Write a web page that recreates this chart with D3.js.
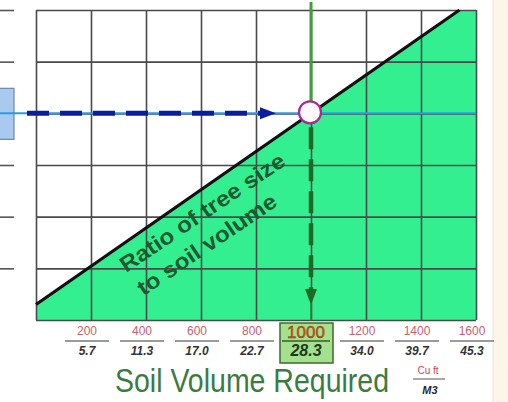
<!DOCTYPE html>
<html><head><meta charset="utf-8">
<script src="https://cdn.jsdelivr.net/npm/d3@7"></script>
<style>
html,body{margin:0;padding:0;background:#fff;}
svg{display:block;font-family:"Liberation Sans",Arial,sans-serif;}
</style></head>
<body>
<svg id="c" width="508" height="402"></svg>
<script>
// ---- data ----
const xTicks = [200, 400, 600, 800, 1000, 1200, 1400, 1600];      // cubic feet
const metricLabels = ["5.7", "11.3", "17.0", "22.7", "28.3", "34.0", "39.7", "45.3"]; // cubic metres
const yTicks = [0, 1, 2, 3, 4, 5, 6];
const leftTicks = [1, 2, 3, 5, 6];
const ratioLine = [{x: 0, y: 0.3}, {x: 1540, y: 6}];
const selectedX = 1000;
const selectedY = 4;
const ratioText = ["Ratio of tree size", "to soil volume"];
const axisTitle = "Soil Volume Required";
const unitTop = "Cu ft", unitBottom = "M3";

// ---- chart ----
const svg = d3.select("#c");
const x = d3.scaleLinear().domain([0, 1600]).range([36, 476]);
const y = d3.scaleLinear().domain([0, 6]).range([320, 10]);

// right cream panel
svg.append("rect").attr("x", 493).attr("y", 0).attr("width", 15).attr("height", 402).attr("fill", "#fdf6e8");
svg.append("line").attr("x1", 493).attr("x2", 493).attr("y1", 0).attr("y2", 402).attr("stroke", "#e4e4e4");

// green area under ratio line
const area = [{x: 0, y: 0}, ratioLine[0], ratioLine[1], {x: 1600, y: 6}, {x: 1600, y: 0}];
svg.append("path")
  .attr("d", d3.line().x(d => x(d.x)).y(d => y(d.y))(area) + "Z")
  .attr("fill", "#34ef90");

// grid via axes
const gx = svg.append("g").attr("transform", `translate(0,${y(0)})`)
  .call(d3.axisBottom(x).tickValues([0].concat(xTicks)).tickSize(-(y(0) - y(6))).tickFormat(""));
gx.select(".domain").remove();
gx.selectAll("line").attr("stroke", "#4a4a4a").attr("stroke-width", 1.6);
const gy = svg.append("g").attr("transform", `translate(${x(0)},0)`)
  .call(d3.axisLeft(y).tickValues(yTicks).tickSize(-(x(1600) - x(0))).tickFormat(""));
gy.select(".domain").remove();
gy.selectAll("line").attr("stroke", "#4a4a4a").attr("stroke-width", 1.6);

// left stub ticks
const gl = svg.append("g").attr("transform", `translate(14,0)`)
  .call(d3.axisLeft(y).tickValues(leftTicks).tickSize(14).tickFormat(""));
gl.select(".domain").remove();
gl.selectAll("line").attr("stroke", "#555").attr("stroke-width", 1.6);
svg.append("rect").attr("x", -2).attr("y", y(selectedY) - 25).attr("width", 16).attr("height", 51)
  .attr("fill", "#a9c9ef").attr("stroke", "#6a87ad").attr("stroke-width", 1.2);

// ratio line
svg.append("path")
  .attr("d", d3.line().x(d => x(d.x)).y(d => y(d.y))(ratioLine))
  .attr("stroke", "#111").attr("stroke-width", 3.2).attr("fill", "none");

// light blue horizontal
svg.append("line").attr("x1", 0).attr("x2", x(1600)).attr("y1", y(selectedY)).attr("y2", y(selectedY))
  .attr("stroke", "#2a9be8").attr("stroke-width", 2);

// dark blue dashed arrow
const cy = y(selectedY), cx = x(selectedX);
svg.append("line").attr("x1", 27).attr("x2", 262).attr("y1", cy).attr("y2", cy)
  .attr("stroke", "#0c1c9e").attr("stroke-width", 5).attr("stroke-dasharray", "22,11");
svg.append("path").attr("d", `M${260},${cy - 6}L${276},${cy}L${260},${cy + 6}Z`).attr("fill", "#0c1c9e");

// green vertical solid above
svg.append("line").attr("x1", cx).attr("x2", cx).attr("y1", 2).attr("y2", cy - 10)
  .attr("stroke", "#3f9f3a").attr("stroke-width", 3);
// dashed down
svg.append("line").attr("x1", cx).attr("x2", cx).attr("y1", cy + 14).attr("y2", 291)
  .attr("stroke", "#1c6a26").attr("stroke-width", 4.5).attr("stroke-dasharray", "22,10");
svg.append("path").attr("d", `M${cx - 6},289L${cx},305L${cx + 6},289Z`).attr("fill", "#1c6a26");
svg.append("line").attr("x1", cx).attr("x2", cx).attr("y1", 303).attr("y2", y(0))
  .attr("stroke", "#2a8a30").attr("stroke-width", 1.5);

// circle
svg.append("circle").attr("cx", cx - 1).attr("cy", cy - 1).attr("r", 11)
  .attr("fill", "#fff8fc").attr("stroke", "#a0308e").attr("stroke-width", 2.2);

// rotated text (left aligned lines)
const tg = svg.append("g").attr("transform", `translate(126,273) rotate(-34)`);
tg.selectAll("text").data(ratioText).join("text")
  .attr("x", (d, i) => i * 1.5).attr("y", (d, i) => i * 29)
  .attr("font-size", 22).attr("font-weight", "bold")
  .attr("fill", "#1d5a30")
  .attr("textLength", (d, i) => i === 0 ? 194 : 163).attr("lengthAdjust", "spacingAndGlyphs")
  .text(d => d);

// selected box
svg.append("rect").attr("x", 280).attr("y", 323).attr("width", 53).attr("height", 40)
  .attr("fill", "#a4e08e").attr("stroke", "#3e6a2e").attr("stroke-width", 1.5);

// tick labels
const lab = svg.append("g").selectAll("g").data(xTicks).join("g")
  .attr("transform", d => `translate(${x(d) - (d === selectedX ? 5 : 4)},0)`);
lab.append("text").attr("y", d => d === selectedX ? 338 : 335).attr("text-anchor", "middle")
  .attr("font-size", d => d === selectedX ? 17 : 12)
  .attr("fill", d => d === selectedX ? "#d0580e" : "#c8606e")
  .attr("stroke", d => d === selectedX ? "#7a3a10" : "none").attr("stroke-width", 0.4)
  .text(d => d);
lab.append("line").attr("x1", d => d === selectedX ? -24 : -22).attr("x2", d => d === selectedX ? 24 : 22)
  .attr("y1", 341).attr("y2", 341)
  .attr("stroke", d => d === selectedX ? "#3e5a2e" : "#7a7a7a").attr("stroke-width", 1.5);
lab.append("text").attr("y", d => d === selectedX ? 356 : 355).attr("text-anchor", "middle")
  .attr("font-size", d => d === selectedX ? 16 : 12).attr("font-weight", "bold").attr("font-style", "italic")
  .attr("fill", d => d === selectedX ? "#1b3a1e" : "#333")
  .text((d, i) => metricLabels[i]);

// axis title (taller than wide, as in reference)
svg.append("text").attr("transform", "translate(115,392) scale(1,1.15)").attr("font-size", 28.5)
  .attr("fill", "#3d7a3f")
  .text(axisTitle);
// units fraction
svg.append("text").attr("x", 428).attr("y", 374).attr("text-anchor", "middle").attr("font-size", 10)
  .attr("fill", "#c8485a").text(unitTop);
svg.append("line").attr("x1", 413).attr("x2", 445).attr("y1", 379).attr("y2", 379)
  .attr("stroke", "#7a7a7a").attr("stroke-width", 1.3);
svg.append("text").attr("x", 430).attr("y", 394).attr("text-anchor", "middle").attr("font-size", 11)
  .attr("font-weight", "bold").attr("font-style", "italic").attr("fill", "#2a2a2a").text(unitBottom);
</script>
</body></html>
